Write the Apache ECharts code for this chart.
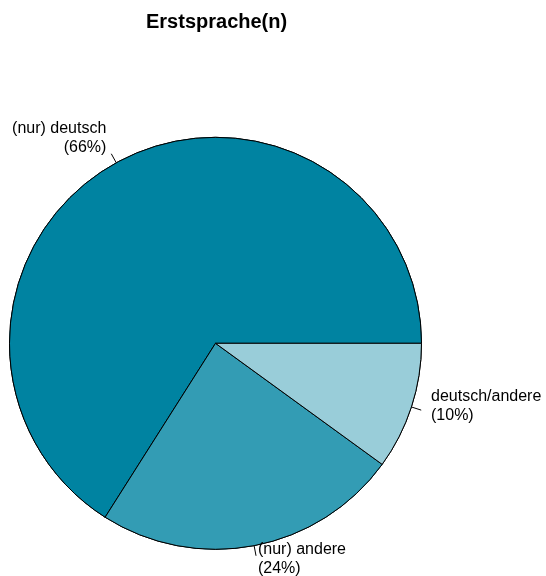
<!DOCTYPE html>
<html>
<head>
<meta charset="utf-8">
<script src="https://cdn.jsdelivr.net/npm/echarts@6/dist/echarts.min.js"></script>
<style>
  html, body { margin: 0; padding: 0; background: #fff; }
  #chart { width: 546px; height: 576px; }
</style>
</head>
<body>
<div id="chart"></div>
<script>
// Erstsprache(n) - Anteile
const categories = ['(nur) deutsch', '(nur) andere', 'deutsch/andere']
const values = [66, 24, 10]
const colorList = ['#0083a1', '#339cb4', '#99cdd9']

const chart = echarts.init(document.getElementById('chart'))

const pieCenter = [215.5, 343.3]
const pieRadius = 206
const fontName = 'Liberation Sans, Arial, sans-serif'

function makeData () {
  return categories.map((name, i) => ({
    name: name,
    value: values[i],
    itemStyle: { color: colorList[i] }
  }))
}

let option = {
  animation: false,
  title: {
    text: 'Erstsprache(n)',
    left: 141,
    top: 7,
    textStyle: {
      fontFamily: fontName,
      fontSize: 20,
      fontWeight: 'bold',
      color: '#000'
    }
  },
  series: [
    {
      // Tortenstücke + kurze Striche von r bis 1.05 r
      type: 'pie',
      center: pieCenter,
      radius: pieRadius,
      startAngle: 0,
      clockwise: false,
      avoidLabelOverlap: false,
      silent: true,
      itemStyle: {
        borderColor: '#000',
        borderWidth: 1
      },
      label: {
        show: true,
        position: 'outside',
        formatter: ' ',
        fontSize: 1
      },
      labelLayout: { hideOverlap: false },
      labelLine: {
        show: true,
        length: pieRadius * 0.05,
        length2: 0,
        lineStyle: {
          color: '#000',
          width: 1
        }
      },
      data: makeData()
    },
    {
      // gleiche Torte, Beschriftung bei 1.1 r
      type: 'pie',
      center: pieCenter,
      radius: pieRadius,
      startAngle: 0,
      clockwise: false,
      percentPrecision: 0,
      avoidLabelOverlap: false,
      silent: true,
      itemStyle: {
        borderColor: '#000',
        borderWidth: 1
      },
      label: {
        show: true,
        position: 'outside',
        formatter: '{t|{b}}\n{t|({d}%)}\n{s| }',
        color: '#000',
        distanceToLabelLine: 0,
        rich: {
          t: {
            fontFamily: fontName,
            fontSize: 16,
            lineHeight: 19,
            color: '#000'
          },
          s: {
            fontSize: 1,
            lineHeight: 14
          }
        }
      },
      labelLayout: { hideOverlap: false },
      labelLine: {
        show: false,
        length: pieRadius * 0.1,
        length2: 0
      },
      data: makeData()
    }
  ]
}

chart.setOption(option)
</script>
</body>
</html>
